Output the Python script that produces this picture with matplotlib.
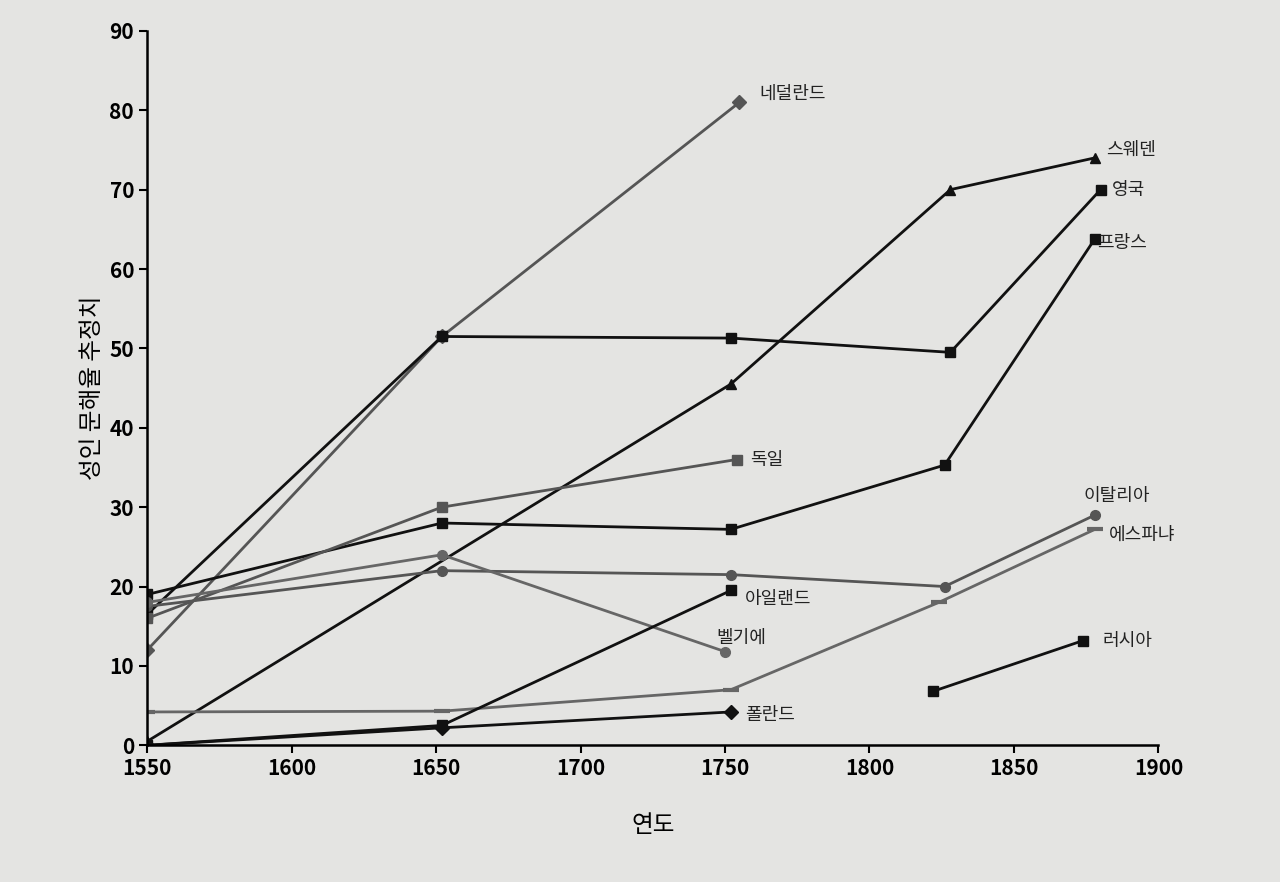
import matplotlib
matplotlib.use("Agg")
import matplotlib.pyplot as plt

plt.rcParams['font.family'] = ['Noto Sans CJK KR', 'DejaVu Sans']

netherlands_x = [1550, 1652, 1755]
netherlands_y = [12, 51.5, 81]
sweden_x = [1550, 1752, 1828, 1878]
sweden_y = [0.5, 45.5, 70, 74]
england_x = [1550, 1652, 1752, 1828, 1880]
england_y = [16.5, 51.5, 51.3, 49.5, 70]
france_x = [1550, 1652, 1752, 1826, 1878]
france_y = [19, 28, 27.2, 35.3, 63.8]
germany_x = [1550, 1652, 1754]
germany_y = [16, 30, 36]
italy_x = [1550, 1652, 1752, 1826, 1878]
italy_y = [17.5, 22, 21.5, 20, 29]
belgium_x = [1550, 1652, 1750]
belgium_y = [18, 24, 11.8]
spain_x = [1550, 1652, 1752, 1824, 1878]
spain_y = [4.2, 4.3, 7, 18, 27.2]
ireland_x = [1550, 1652, 1752]
ireland_y = [0, 2.5, 19.5]
poland_x = [1550, 1652, 1752]
poland_y = [0, 2.2, 4.2]
russia_x = [1822, 1874]
russia_y = [6.8, 13.2]

series = [
    ('네덜란드', netherlands_x, netherlands_y, 'D', '#555555'),
    ('스웨덴', sweden_x, sweden_y, '^', '#111111'),
    ('영국', england_x, england_y, 's', '#111111'),
    ('프랑스', france_x, france_y, 's', '#111111'),
    ('독일', germany_x, germany_y, 's', '#555555'),
    ('이탈리아', italy_x, italy_y, 'o', '#555555'),
    ('벨기에', belgium_x, belgium_y, 'o', '#666666'),
    ('에스파냐', spain_x, spain_y, '_', '#666666'),
    ('아일랜드', ireland_x, ireland_y, 's', '#111111'),
    ('폴란드', poland_x, poland_y, 'D', '#111111'),
    ('러시아', russia_x, russia_y, 's', '#111111'),
]

offsets = {
    '네덜란드': (14, 6), '스웨덴': (8, 6), '영국': (8, 0), '프랑스': (2, -3),
    '독일': (10, 0), '이탈리아': (-8, 14), '벨기에': (-6, 10), '에스파냐': (10, -4),
    '아일랜드': (10, -6), '폴란드': (10, -2), '러시아': (14, 0),
}

fig = plt.figure(figsize=(12.8, 8.82), dpi=100)
fig.patch.set_facecolor('#e4e4e2')
ax = fig.add_axes([0.115, 0.155, 0.79, 0.81])
ax.set_facecolor('#e4e4e2')

for name, xs, ys, m, c in series:
    ms = 12 if m == '_' else 7
    ax.plot(xs, ys, color=c, lw=2, marker=m, ms=ms, mew=3 if m == '_' else 1)
    dx, dy = offsets[name]
    ax.annotate(name, (xs[-1], ys[-1]), xytext=(dx, dy), textcoords='offset points',
                fontsize=13, va='center', color='#222222')

ax.set_xlim(1550, 1900)
ax.set_ylim(0, 90)
ax.set_xticks(range(1550, 1901, 50))
ax.set_yticks(range(0, 91, 10))
ax.tick_params(labelsize=15, width=1.5, length=6, direction='out')
for lab in ax.get_xticklabels() + ax.get_yticklabels():
    lab.set_fontweight('bold')
ax.spines['top'].set_visible(False)
ax.spines['right'].set_visible(False)
ax.spines['left'].set_linewidth(1.8)
ax.spines['bottom'].set_linewidth(1.8)
ax.set_xlabel('연도', fontsize=17, labelpad=25)
ax.set_ylabel('성인 문해율 추정치', fontsize=17)

fig.savefig('out.png', dpi=100, facecolor=fig.get_facecolor())
